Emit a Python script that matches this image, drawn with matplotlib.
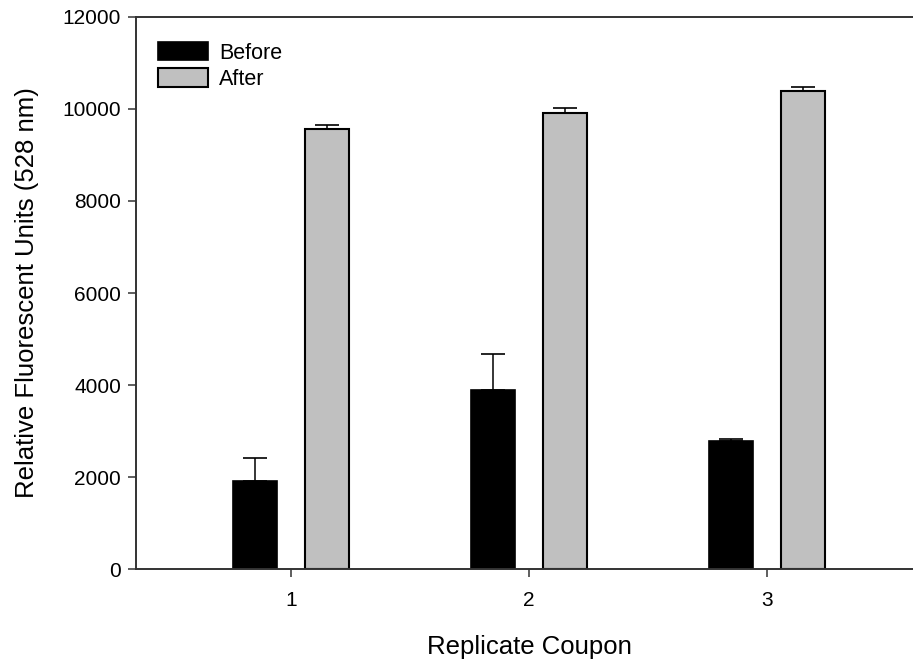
import numpy as np
import matplotlib
matplotlib.use('Agg')
import matplotlib.pyplot as plt

plt.rcParams['font.family'] = ['Liberation Sans', 'DejaVu Sans']

coupons = ['1', '2', '3']
before = [1910, 3890, 2780]
before_err = [510, 780, 55]
after = [9565, 9920, 10395]
after_err = [80, 100, 75]

x = np.arange(1, len(coupons) + 1)
w = 0.185  # bar width
off = 0.151  # shift of each bar from the tick

fig = plt.figure(figsize=(9.13, 6.66), dpi=100)
ax = fig.add_axes([0.1493, 0.1456, 0.8607, 0.8289])

ax.bar(x - off, before, w, color='black', edgecolor='black', linewidth=1.2,
       label='Before', zorder=2)
ax.bar(x + off, after, w, color='#c0c0c0', edgecolor='black', linewidth=1.5,
       label='After', zorder=2)
# one-sided error bars (upper only)
ax.errorbar(x - off, before, yerr=[np.zeros(3), before_err], fmt='none',
            ecolor='black', elinewidth=1.1, capsize=8.5, capthick=1.2, zorder=1)
ax.errorbar(x + off, after, yerr=[np.zeros(3), after_err], fmt='none',
            ecolor='black', elinewidth=1.1, capsize=8.5, capthick=1.2, zorder=1)

ax.set_xlim(0.35, 3.65)
ax.set_ylim(0, 12000)
ax.set_xticks(x)
ax.set_xticklabels(coupons)
ax.set_yticks(np.arange(0, 12001, 2000))

for s in ax.spines.values():
    s.set_color('#333333')
    s.set_linewidth(1.4)
ax.tick_params(direction='out', length=6, width=1.1, color='#333333',
               labelsize=15)
ax.tick_params(axis='x', pad=10)
ax.tick_params(axis='y', pad=5)

ax.set_xlabel('Replicate Coupon', fontsize=18.5, labelpad=18)
ax.set_ylabel('Relative Fluorescent Units (528 nm)', fontsize=18.5, labelpad=17)

leg = ax.legend(loc='upper left', bbox_to_anchor=(0.003, 0.99), frameon=False,
                fontsize=15.5, handlelength=2.3, handleheight=0.95,
                handletextpad=0.55, labelspacing=0.22)

fig.savefig('out.png', dpi=100)
